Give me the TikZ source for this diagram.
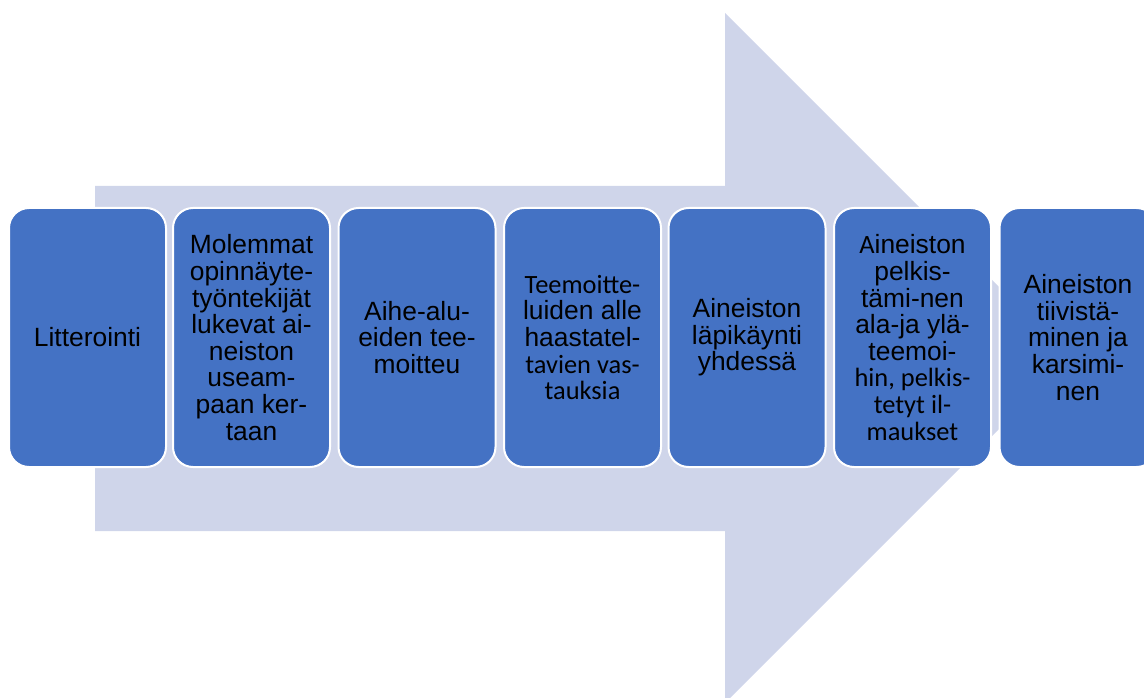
\documentclass[tikz,border=0pt]{standalone}
\usepackage{fontspec}
\setmainfont{Liberation Sans}
\newfontfamily\calibrifont{Carlito}
\usepackage{tikz}
\definecolor{arrowfill}{HTML}{CFD5EA}
\definecolor{boxfill}{HTML}{4472C4}
\tikzset{
  stepbox/.style={draw=white, line width=2pt, fill=boxfill, rounded corners=20pt,
    minimum width=157pt, minimum height=259pt, inner sep=0pt, align=center,
    font=\fontsize{26.4}{26.6}\selectfont, text=black}
}

\begin{document}
\begin{tikzpicture}[x=1pt,y=-1pt]
                      \useasboundingbox (0,0) rectangle (1144,698);
                      \fill[arrowfill] (95,186) -- (725,186) -- (725,13) -- (1070,358) -- (725,703) -- (725,531) -- (95,531) -- cycle;
                      \node[stepbox] (litter) at (87.5,337.5) {Litterointi};
                      \node[stepbox] (lukevat) at (251.5,337.5) {Molemmat\\opinnäyte-\\työntekijät\\lukevat ai-\\neiston\\useam-\\paan ker-\\taan};
                      \node[stepbox] (aihe) at (417,337.5) {Aihe-alu-\\eiden tee-\\moitteu};
                      \node[stepbox] (teemat) at (582.5,337.5) {{\calibrifont Teemoitte-}\\luiden alle\\haastatel-\\{\calibrifont tavien vas-}\\{\calibrifont tauksia}};
                      \node[stepbox] (lapikaynti) at (747,337.5) {Aineiston\\läpikäynti\\yhdessä};
                      \node[stepbox] (pelkistys) at (912.5,337.5) {{\calibrifont A}ineiston\\pelkis-\\tämi-nen\\ala-ja ylä-\\teemoi-\\{\calibrifont hin, pelkis-}\\{\calibrifont tetyt il-}\\{\calibrifont maukset}};
                      \node[stepbox] (tiivistys) at (1078,337.5) {Aineiston\\tiivistä-\\minen ja\\karsimi-\\nen};
                  \end{tikzpicture}
\end{document}
